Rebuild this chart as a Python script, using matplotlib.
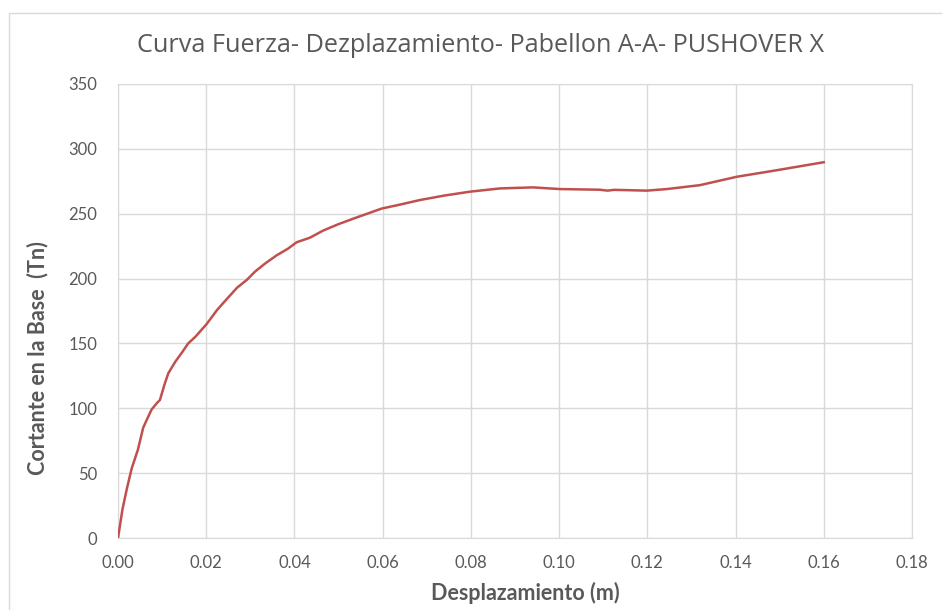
import numpy as np
import matplotlib
matplotlib.use("Agg")
import matplotlib.pyplot as plt
from matplotlib.patches import Rectangle

desp = [0.0, 0.001, 0.002, 0.0031, 0.0045, 0.0057, 0.0065, 0.0076, 0.0088,
        0.0095, 0.0105, 0.0114, 0.013, 0.0145, 0.0159, 0.0175, 0.0201,
        0.0225, 0.0246, 0.027, 0.0292, 0.0311, 0.0335, 0.036, 0.0385,
        0.0405, 0.0435, 0.0465, 0.05, 0.054, 0.0598, 0.0639, 0.0685, 0.074,
        0.0798, 0.0866, 0.0941, 0.1002, 0.1092, 0.111, 0.1125, 0.1199,
        0.1244, 0.1319, 0.1403, 0.1493, 0.16]
cortante = [0, 22, 38, 53.7, 68, 85, 91, 99, 104, 106.4, 118, 127, 136, 143,
            150, 155, 165, 176, 184, 193, 199, 205.5, 212, 218, 223, 228,
            231.5, 237, 242, 247, 254, 257, 260.6, 264, 267, 269.5, 270.3,
            269, 268.5, 267.8, 268.4, 267.8, 269, 272, 278.5, 283.5, 289.7]

xticks = np.arange(0, 0.181, 0.02)
yticks = np.arange(0, 351, 50)

gris = '#595959'
fuente = ['Lato', 'DejaVu Sans']
plt.rcParams['font.family'] = fuente


def main():
    fig = plt.figure(figsize=(9.42, 6.10), dpi=100)
    ax = fig.add_axes([0.1253, 0.118, 0.8428, 0.7443])

    # borde del area del grafico
    fig.patches.append(Rectangle((9/942, -0.05), 1.2, 1 - 13/610 + 0.05,
                                 transform=fig.transFigure, fill=False,
                                 edgecolor='#D9D9D9', linewidth=1.0))

    ax.plot(desp, cortante, color='#C0504D', linewidth=1.8, zorder=3)

    ax.set_xlim(0, 0.18)
    ax.set_ylim(0, 350)
    ax.set_xticks(xticks)
    ax.set_yticks(yticks)
    ax.set_xticklabels(['%.2f' % t for t in xticks])
    ax.grid(True, color='#D9D9D9', linewidth=1.0)
    for s in ax.spines.values():
        s.set_color('#D9D9D9')
    ax.tick_params(length=0, colors=gris, labelsize=12, pad=12)
    ax.tick_params(axis='y', pad=15)

    fig.text(0.51, 0.925, 'Curva Fuerza- Dezplazamiento- Pabellon A-A- PUSHOVER X',
             ha='center', va='center', fontsize=18.2, color=gris,
             family=['Open Sans', 'DejaVu Sans'])
    ax.set_xlabel('Desplazamiento (m)', fontsize=15.5, fontweight='bold',
                  color=gris, labelpad=8)
    ax.xaxis.set_label_coords(0.513, -0.097)
    ax.set_ylabel('Cortante en la Base  (Tn)', fontsize=15.5, fontweight='bold',
                  color=gris)
    ax.yaxis.set_label_coords(-0.088, 0.396)

    fig.savefig('out.png', dpi=100)


if __name__ == "__main__":
    main()
